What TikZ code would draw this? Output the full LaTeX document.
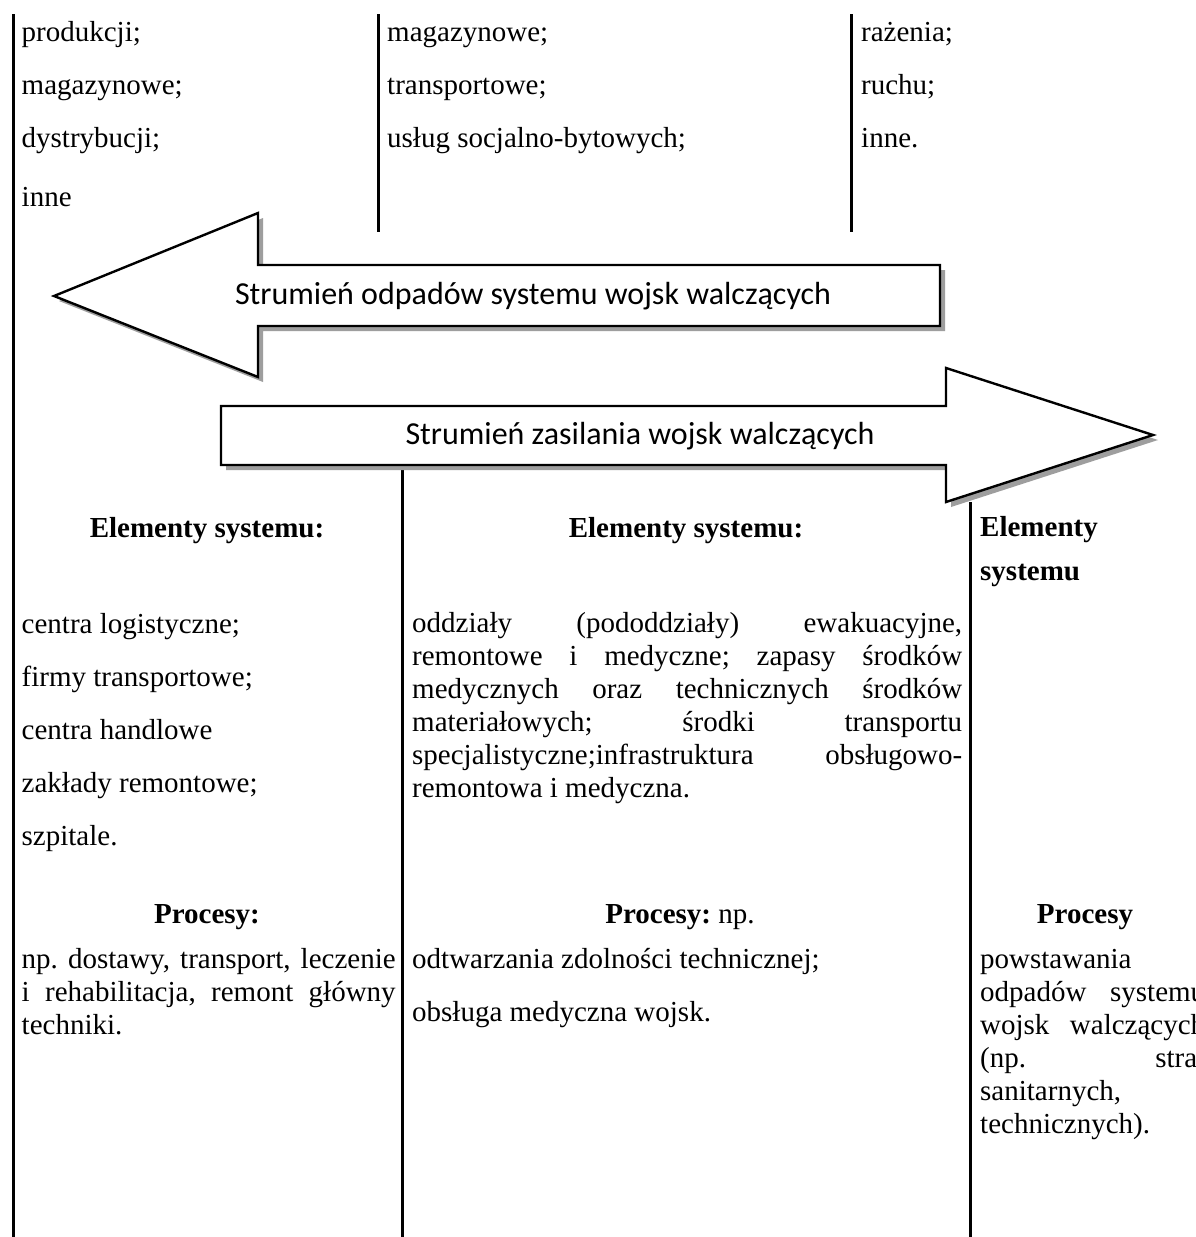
\documentclass[tikz,border=0pt]{standalone}
\usepackage{fontspec}
\setmainfont{Liberation Serif}
\newfontfamily\calib{Carlito}
\tikzset{
  sepline/.style={line width=3pt},
  flowshape/.style={draw=black, line width=2.4pt, fill=white, line join=miter},
  flowshadow/.style={fill=black!38},
  item/.style={anchor=base west, inner sep=0pt, font=\fontsize{29}{33}\selectfont},
  head/.style={anchor=base, inner sep=0pt, font=\fontsize{29}{33}\selectfont\bfseries},
  flowtext/.style={inner sep=0pt, font=\calib\fontsize{32}{38}\selectfont},
}
\newcommand{\jl}[2]{\makebox[#1pt][s]{#2}}
\begin{document}
\frenchspacing
\begin{tikzpicture}[x=1pt,y=-1pt]
\useasboundingbox (0,0) rectangle (1195,1237);
\clip (0,0) rectangle (1195,1237);
\fill[white] (0,0) rectangle (1195,1237);

% column separators
\coordinate (l1t) at (13,14);   \coordinate (l1b) at (13,1237);
\coordinate (l2t) at (378,14);  \coordinate (l2b) at (378,232);
\coordinate (l3t) at (851,14);  \coordinate (l3b) at (851,232);
\coordinate (l4t) at (402,468); \coordinate (l4b) at (402,1237);
\coordinate (l5t) at (970,502); \coordinate (l5b) at (970,1237);
\draw[sepline] (l1t) -- (l1b);
\draw[sepline] (l2t) -- (l2b);
\draw[sepline] (l3t) -- (l3b);
\draw[sepline] (l4t) -- (l4b);
\draw[sepline] (l5t) -- (l5b);

% top lists
\node[item] (a1) at (21.5,41)  {produkcji;};
\node[item] (a2) at (21.5,94)  {magazynowe;};
\node[item] (a3) at (21.5,147) {dystrybucji;};
\node[item] (a4) at (21.5,206) {inne};
\node[item] (b1) at (387,41)  {magazynowe;};
\node[item] (b2) at (387,94)  {transportowe;};
\node[item] (b3) at (387,147) {usług socjalno-bytowych;};
\node[item] (c1) at (861,41)  {rażenia;};
\node[item] (c2) at (861,94)  {ruchu;};
\node[item] (c3) at (861,147) {inne.};

% arrow 1 (left)
\fill[flowshadow, shift={(5,5)}] (54,296) -- (258,213) -- (258,265) -- (940,265) -- (940,326) -- (258,326) -- (258,377) -- cycle;
\draw[flowshape] (54,296) -- (258,213) -- (258,265) -- (940,265) -- (940,326) -- (258,326) -- (258,377) -- cycle;
\node[flowtext] (f1) at (533,296) {Strumień odpadów systemu wojsk walczących};

% arrow 2 (right)
\fill[flowshadow, shift={(5,5)}] (221,406) -- (946,406) -- (946,368) -- (1153,435) -- (946,502) -- (946,465) -- (221,465) -- cycle;
\draw[flowshape] (221,406) -- (946,406) -- (946,368) -- (1153,435) -- (946,502) -- (946,465) -- (221,465) -- cycle;
\node[flowtext] (f2) at (640,436) {Strumień zasilania wojsk walczących};

% elementy headings
\node[head] (h1) at (207,537) {Elementy systemu:};
\node[head] (h2) at (686,537) {Elementy systemu:};
\node[head, anchor=base west] (h3a) at (980,536) {Elementy};
\node[head, anchor=base west] (h3b) at (980,580) {systemu};

% col1 elements
\node[item] (e1) at (21.5,633) {centra logistyczne;};
\node[item] (e2) at (21.5,686) {firmy transportowe;};
\node[item] (e3) at (21.5,739) {centra handlowe};
\node[item] (e4) at (21.5,792) {zakłady remontowe;};
\node[item] (e5) at (21.5,845) {szpitale.};

% col2 elements
\node[item] (g1) at (412,632) {\jl{550}{oddziały (pododdziały) ewakuacyjne,}};
\node[item] (g2) at (412,665) {\jl{550}{remontowe i medyczne; zapasy środków}};
\node[item] (g3) at (412,698) {\jl{550}{medycznych oraz technicznych środków}};
\node[item] (g4) at (412,731) {\jl{550}{materiałowych; środki transportu}};
\node[item] (g5) at (412,764) {\jl{550}{specjalistyczne;infrastruktura obsługowo-}};
\node[item] (g6) at (412,797) {remontowa i medyczna.};

% procesy headings
\node[head] (p1) at (207,923) {Procesy:};
\node[head] (p2) at (680,923) {Procesy:\mdseries{} np.};
\node[head] (p3) at (1085,923) {Procesy};

% col1 procesy
\node[item] (q1) at (21.5,968)  {\jl{374}{np. dostawy, transport, leczenie}};
\node[item] (q2) at (21.5,1001) {\jl{374}{i rehabilitacja, remont główny}};
\node[item] (q3) at (21.5,1034) {techniki.};

% col2 procesy
\node[item] (r1) at (412,968)  {odtwarzania zdolności technicznej;};
\node[item] (r2) at (412,1021) {obsługa medyczna wojsk.};

% col3 procesy
\node[item] (s1) at (980,968)  {powstawania};
\node[item] (s2) at (980,1001) {\jl{225}{odpadów systemu}};
\node[item] (s3) at (980,1034) {\jl{225}{wojsk walczących}};
\node[item] (s4) at (980,1067) {\jl{225}{(np. strat}};
\node[item] (s5) at (980,1100) {sanitarnych,};
\node[item] (s6) at (980,1133) {technicznych).};
\end{tikzpicture}
\end{document}
